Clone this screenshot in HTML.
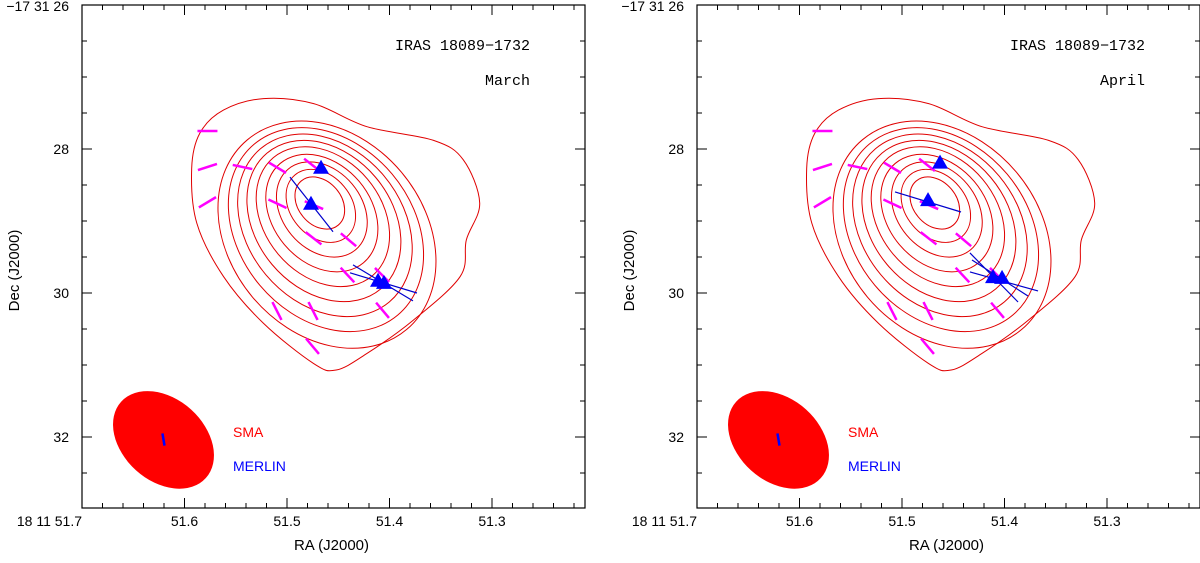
<!DOCTYPE html>
<html><head><meta charset="utf-8"><style>
body{margin:0;background:#fff;}
</style></head><body>
<svg id="chart" width="1200" height="558" xmlns="http://www.w3.org/2000/svg"></svg>
<script>
// ---- data ----
const outerRA=[51.593,51.585,51.562,51.523,51.474,51.422,51.357,51.328,51.312,51.325,51.331,51.377,51.422,51.452,51.474,51.523,51.562,51.588];
const outerDec=[28.27,27.78,27.46,27.30,27.37,27.69,27.88,28.15,28.75,29.26,29.77,30.38,30.84,31.07,30.98,30.42,29.77,29.03];
const ellRA=[51.468,51.467,51.466,51.466,51.465,51.464,51.463,51.462,51.461];
const ellDec=[28.75,28.79,28.84,28.89,28.94,29.00,29.06,29.12,29.19];
const ellA=[0.40,0.56,0.73,0.90,1.07,1.23,1.39,1.55,1.72];
const ellB=[0.30,0.42,0.55,0.68,0.81,0.94,1.07,1.20,1.35];
const polRA=[51.5776,51.5776,51.5776,51.5434,51.5093,51.4756,51.5093,51.4737,51.4741,51.44,51.441,51.4073,51.5098,51.4746,51.4068,51.4751];
const polDec=[27.75,28.25,28.74,28.25,28.26,28.22,28.76,28.78,29.24,29.26,29.75,29.75,30.25,30.25,30.24,30.74];
const polAng=[0,-18,-31,12,31,38,25,23,38,40,47,45,63,63,50,50];
const marRA=[51.4668,51.4766,51.4112,51.4054];
const marDec=[28.26,28.76,29.83,29.86];
const aprRA=[51.4629,51.4746,51.4112,51.4024];
const aprDec=[28.19,28.71,29.78,29.79];
const marLines=[[51.4971,28.39,51.4551,29.15],[51.4356,29.61,51.3771,30.11],[51.4385,29.72,51.3732,30.0]];
const aprLines=[[51.5068,28.597,51.4424,28.875],[51.4337,29.444,51.3868,30.125],[51.4337,29.708,51.3673,29.972],[51.4317,29.542,51.3771,30.042]];
const xTicks=[51.7,51.6,51.5,51.4,51.3];
const xTickLabels=["18 11 51.7","51.6","51.5","51.4","51.3"];
const yTicks=[26,28,30,32];
const yTickLabels=["\u221217 31 26","28","30","32"];

const NS="http://www.w3.org/2000/svg";
const svg=document.getElementById('chart');
const SANS='Liberation Sans, sans-serif', MONO='Liberation Mono, monospace';
function mk(tag,at,parent){const e=document.createElementNS(NS,tag);for(const k in at)e.setAttribute(k,at[k]);(parent||svg).appendChild(e);return e;}
function smooth(P){let d='M'+P[0][0]+','+P[0][1];const n=P.length;
  for(let i=0;i<n;i++){const p0=P[(i-1+n)%n],p1=P[i],p2=P[(i+1)%n],p3=P[(i+2)%n];
    d+=` C${p1[0]+(p2[0]-p0[0])/6},${p1[1]+(p2[1]-p0[1])/6} ${p2[0]-(p3[0]-p1[0])/6},${p2[1]-(p3[1]-p1[1])/6} ${p2[0]},${p2[1]}`;}
  return d+'Z';}

function panel(off,label,tRA,tDec,lines,pname){
  const g=mk('g',{});
  
  
  const L=82+off,R=585+off,T=5,B=508;
  const X=ra=>82+off+(51.7-ra)*1025;
  const Y=d=>5+(d-26)*72;
  for(let i=0;i<=25;i++){const ra=51.7-i*0.02;const x=X(ra);if(x>R)break;const big=i%5==0;
    mk('line',{x1:x,x2:x,y1:B,y2:B-(big?10:5),stroke:'#000','stroke-width':1},g);
    mk('line',{x1:x,x2:x,y1:T,y2:T+(big?10:5),stroke:'#000','stroke-width':1},g);}
  for(let i=0;i<=14;i++){const d=26+i*0.5;const y=Y(d);if(y>B)break;const big=i%4==0;
    mk('line',{x1:L,x2:L+(big?10:5),y1:y,y2:y,stroke:'#000','stroke-width':1},g);
    mk('line',{x1:R,x2:R-(big?10:5),y1:y,y2:y,stroke:'#000','stroke-width':1},g);}
  xTicks.forEach((v,i)=>{const t=mk('text',{x:i==0?X(v):X(v),y:526,'text-anchor':i==0?'end':'middle','font-size':14,'font-family':SANS},g);t.textContent=xTickLabels[i];
    
    });
  yTicks.forEach((v,i)=>{const t=mk('text',{x:L-13,y:Y(v)+(i==0?5:5),'text-anchor':'end','font-size':14,'font-family':SANS},g);t.textContent=yTickLabels[i];
    if(i==0){t.setAttribute('y',11);}
    
    });
  const xt=mk('text',{x:(L+R)/2-2,y:550,'text-anchor':'middle','font-size':15,'font-family':SANS},g);xt.textContent='RA  (J2000)';
  
  
  const yt=mk('text',{x:0,y:0,'text-anchor':'middle','font-size':15,'font-family':SANS,transform:`translate(${off+19},${(T+B)/2+14}) rotate(-90)`},g);yt.textContent='Dec (J2000)';
  
  
  const beam=mk('ellipse',{cx:X(51.6205),cy:Y(32.04),rx:57,ry:41,fill:'#ff0000',transform:`rotate(42 ${X(51.6205)} ${Y(32.04)})`},g);
  
  
  const mb=mk('line',{x1:X(51.6215),y1:Y(31.95),x2:X(51.6195),y2:Y(32.12),stroke:'#0000ff','stroke-width':2.5},g);
  
  
  const s1=mk('text',{x:L+151,y:437,fill:'#ff0000','font-size':14,'font-family':SANS},g);s1.textContent='SMA';
  
  
  const s2=mk('text',{x:L+151,y:471,fill:'#0000ff','font-size':14,'font-family':SANS},g);s2.textContent='MERLIN';
  
  
  const tt=mk('text',{x:L+448,y:50,'text-anchor':'end','font-size':15,'font-family':MONO},g);tt.textContent='IRAS 18089\u22121732';
  
  
  const ep=mk('text',{x:L+448,y:85,'text-anchor':'end','font-size':15,'font-family':MONO},g);ep.textContent=label;
  
  
  const P=outerRA.map((r,i)=>[X(r),Y(outerDec[i])]);
  const pg=mk('path',{d:smooth(P),fill:'none',stroke:'#e00000','stroke-width':1},g);
  
  
  ellRA.forEach((r,i)=>{const cx=X(r),cy=Y(ellDec[i]);
    const e=mk('ellipse',{cx:cx,cy:cy,rx:ellA[i]*72,ry:ellB[i]*72,fill:'none',stroke:'#e00000','stroke-width':1,transform:`rotate(50 ${cx} ${cy})`},g);
    
    });
  polRA.forEach((r,i)=>{const cx=X(r),cy=Y(polDec[i]),a=polAng[i]*Math.PI/180,h=10;
    const l=mk('line',{x1:cx-h*Math.cos(a),y1:cy-h*Math.sin(a),x2:cx+h*Math.cos(a),y2:cy+h*Math.sin(a),stroke:'#ff00ff','stroke-width':2.5},g);
    
    });
  lines.forEach(s=>{const l=mk('line',{x1:X(s[0]),y1:Y(s[1]),x2:X(s[2]),y2:Y(s[3]),stroke:'#0000cc','stroke-width':1.2},g);
    
    });
  tRA.forEach((r,i)=>{const cx=X(r),cy=Y(tDec[i]);
    const p=mk('polygon',{points:`${cx},${cy-8} ${cx-8},${cy+6} ${cx+8},${cy+6}`,fill:'#0000ff'},g);
    
    });
  const fr=mk('rect',{x:L,y:T,width:R-L,height:B-T,fill:'none',stroke:'#000','stroke-width':1.2},g);
  
  
}
panel(0,'March',marRA,marDec,marLines,'panel-march');
panel(615,'April',aprRA,aprDec,aprLines,'panel-april');
</script>
</body></html>
